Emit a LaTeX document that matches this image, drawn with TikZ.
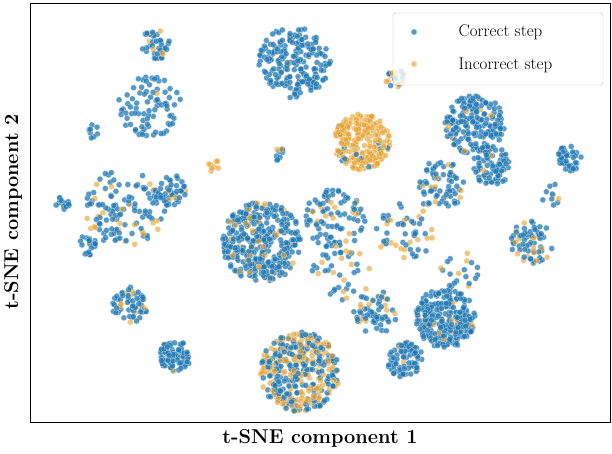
\documentclass[tikz,border=0pt]{standalone}
\definecolor{cb}{HTML}{1F78B4}
\definecolor{co}{HTML}{E69F28}
\begin{document}
\begin{tikzpicture}[x=1pt,y=-1pt,
 bp/.style={fill=cb,draw=white,line width=0.3pt,fill opacity=0.75,draw opacity=0.6},
 op/.style={fill=co,draw=white,line width=0.3pt,fill opacity=0.6,draw opacity=0.6},
 lab/.style={font=\bfseries\fontsize{20}{24}\selectfont}]
\useasboundingbox (0,0) rectangle (612,454);
\pgfmathsetseed{7}
\foreach \cx/\cy/\r/\n/\o in {
155/45/15/40/0.15, 150/105/32/80/0.02, 295/62/36/200/0.03, 395/78/10/20/0.5,
362/142/28/220/0.92, 475/125/30/190/0.03, 492/165/20/80/0.05, 570/158/13/45/0.02,
125/208/40/120/0.15, 170/190/16/50/0.1, 62/205/8/12/0, 88/245/10/20/0.05,
262/242/40/380/0.1, 335/218/30/90/0.15, 440/185/25/70/0.15, 532/242/22/70/0.3,
130/305/18/60/0.15, 175/355/16/80/0.02, 300/372/40/380/0.45, 445/318/30/260/0.05,
405/360/18/80/0.05, 375/312/22/60/0.3, 212/165/7/8/1, 95/132/8/8/0,
282/155/8/10/0.2, 405/230/30/50/0.35, 340/275/30/40/0.3, 550/195/12/10/0.1,
460/270/20/20/0.3}{
 \foreach \i in {1,...,\n}{
  \pgfmathsetmacro\a{360*rnd}
  \pgfmathsetmacro\d{\r*sqrt(rnd)}
  \pgfmathsetmacro\px{\cx+\d*cos(\a)}
  \pgfmathsetmacro\py{\cy+\d*sin(\a)}
  \pgfmathtruncatemacro\c{rnd<\o?1:0}
  \ifnum\c=1 \filldraw[op] (\px,\py) circle (3);
  \else \filldraw[bp] (\px,\py) circle (3); \fi
 }
}
\draw[black,line width=0.8pt] (30,3) rectangle (610,422);
\node[draw=gray!50,fill=white,fill opacity=0.8,text opacity=1,rounded corners=3pt,minimum width=210pt,minimum height=72pt] (leg) at (498,49) {};
\filldraw[bp] (414,32) circle (3);
\filldraw[op] (414,64) circle (3);
\node[anchor=west,font=\fontsize{17}{20}\selectfont] (l1) at (455,32) {Correct step};
\node[anchor=west,font=\fontsize{17}{20}\selectfont] (l2) at (455,65) {Incorrect step};
\node[lab] (xl) at (320,438) {t-SNE component 1};
\node[lab,rotate=90] (yl) at (13,212) {t-SNE component 2};
\end{tikzpicture}
\end{document}
